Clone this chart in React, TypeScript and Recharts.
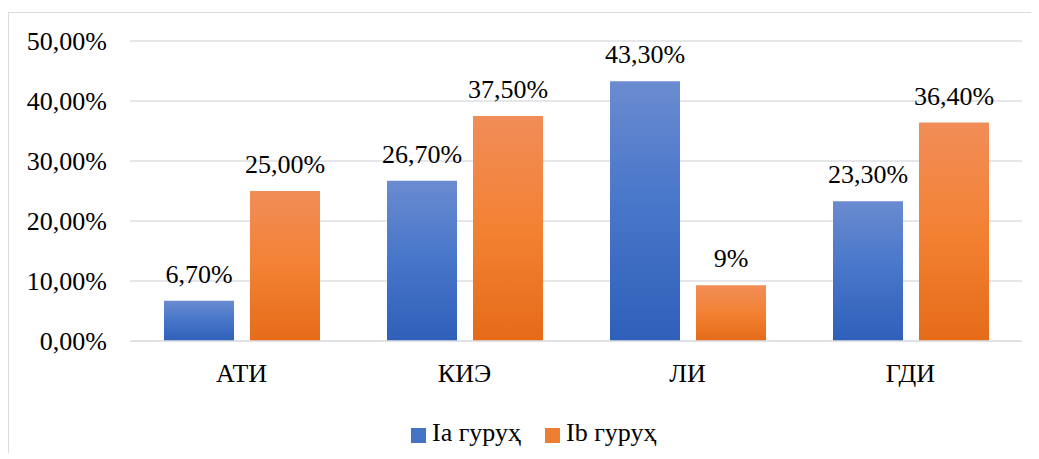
import { BarChart, Bar, XAxis, YAxis, CartesianGrid, Legend, LabelList } from 'recharts';

// Categories and series values (percent)
const categories = ['АТИ', 'КИЭ', 'ЛИ', 'ГДИ'];
const groupA = [6.7, 26.7, 43.3, 23.3];
const groupB = [25, 37.5, 9.3, 36.4];
const labelsA = ['6,70%', '26,70%', '43,30%', '23,30%'];
const labelsB = ['25,00%', '37,50%', '9%', '36,40%'];
const yTicks = [0, 10, 20, 30, 40, 50];
const seriesNames = ['Ia гуруҳ', 'Ib гуруҳ'];

const GRID = '#dcdfe5';

const data = categories.map((name, i) => ({
  name,
  a: groupA[i],
  b: groupB[i],
  labelA: labelsA[i],
  labelB: labelsB[i],
}));

const fmtY = (v: number) => v.toFixed(2).replace('.', ',') + '%';

export default function App() {
  return (
    <div
      style={{
        position: 'relative',
        marginTop: 4,
        width: 1030,
        height: 440,
        borderTop: '1px solid #d9dce2',
        borderLeft: '1px solid #d9dce2',
        fontFamily: 'Times New Roman',
      }}
    >
      <BarChart
        width={1030}
        height={440}
        data={data}
        margin={{ top: 28, right: 17, left: 21, bottom: 72 }}
        barCategoryGap={34}
        barGap={16}
      >
        <defs>
          <linearGradient id="gradA" x1="0" y1="0" x2="0" y2="1">
            <stop offset="0%" stopColor="#6a8bd0" />
            <stop offset="50%" stopColor="#4675c9" />
            <stop offset="100%" stopColor="#2f5fb8" />
          </linearGradient>
          <linearGradient id="gradB" x1="0" y1="0" x2="0" y2="1">
            <stop offset="0%" stopColor="#f18d58" />
            <stop offset="50%" stopColor="#f38133" />
            <stop offset="100%" stopColor="#e56b19" />
          </linearGradient>
        </defs>
        <CartesianGrid vertical={false} stroke={GRID} strokeWidth={1.5} />
        <XAxis
          dataKey="name"
          height={40}
          axisLine={{ stroke: GRID, strokeWidth: 1.5 }}
          tickLine={false}
          tickMargin={17}
          tick={{ fill: '#000', fontSize: 26 }}
        />
        <YAxis
          width={100}
          domain={[0, 50]}
          ticks={yTicks}
          tickFormatter={fmtY}
          axisLine={false}
          tickLine={false}
          tickMargin={17}
          tick={{ fill: '#000', fontSize: 26 }}
        />
        <Legend
          layout="horizontal"
          verticalAlign="middle"
          align="center"
          iconType="square"
          iconSize={15}
          wrapperStyle={{ top: 405, left: 402, width: 'auto', fontSize: 26, lineHeight: '30px' }}
          formatter={(value: string) => (
            <span style={{ color: '#000', marginLeft: 2, marginRight: 14 }}>{value}</span>
          )}
        />
        <Bar dataKey="a" name={seriesNames[0]} fill="#4472c4" isAnimationActive={false}>
          <LabelList dataKey="labelA" position="top" offset={18} fill="#000" fontSize={26} />
        </Bar>
        <Bar dataKey="b" name={seriesNames[1]} fill="#ed7d31" isAnimationActive={false}>
          <LabelList dataKey="labelB" position="top" offset={18} fill="#000" fontSize={26} />
        </Bar>
      </BarChart>
      <style>{`.recharts-bar-rectangle:nth-child(n) path{} .recharts-bar:nth-of-type(1) .recharts-rectangle{fill:url(#gradA)} .recharts-bar:nth-of-type(2) .recharts-rectangle{fill:url(#gradB)}`}</style>
    </div>
  );
}
